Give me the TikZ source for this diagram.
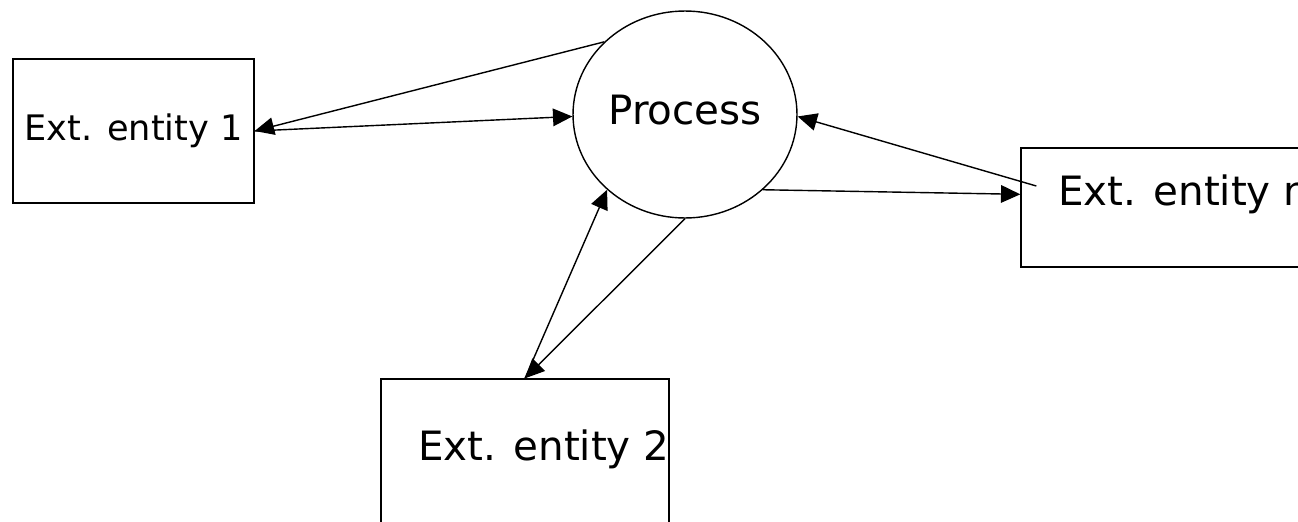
\documentclass[tikz,border=0pt]{standalone}
\usepackage{fontspec}
\setmainfont{DejaVu Sans}
\usetikzlibrary{arrows.meta,calc,shapes.geometric}

\begin{document}
\begin{tikzpicture}[x=0.02cm,y=-0.02cm,>={Triangle[length=11pt,width=10pt]}]
	
	% ------------------------------------------------------------
	% Styles
	% ------------------------------------------------------------
	\tikzset{
		entity/.style={draw=black,line width=0.8pt,inner sep=0pt},
		procshape/.style={ellipse,draw=black,line width=0.8pt,inner sep=0pt,
			minimum width=4.48cm,minimum height=4.14cm},
		smalltext/.style={font=\fontsize{20}{24}\selectfont,inner sep=0pt},
		bigtext/.style={font=\fontsize{23}{28}\selectfont,inner sep=0pt},
		flow/.style={->,line width=0.8pt}
	}
	
	\useasboundingbox (0,0) rectangle (1298,521);
	
	% ============================================================
	% Process (centre)
	% ============================================================
	\node[procshape] (pr) at (685,114.5) {};
	\node[bigtext,anchor=base west] (prtext) at (608,124) {Process};
	
	% ============================================================
	% External entities
	% ============================================================
	\node[entity,smalltext,minimum width=4.82cm,minimum height=2.88cm]
	(e1) at (133.5,131) {Ext. entity 1};
	
	\node[entity,minimum width=5.76cm,minimum height=3.2cm] (e2) at (525,459) {};
	\node[bigtext,anchor=base west] (e2text) at (418,460) {Ext. entity 2};
	
	\node[entity,minimum width=6cm,minimum height=2.38cm] (en) at (1171,207.5) {};
	\node[bigtext,anchor=base west] (entext) at (1058,205) {Ext. entity n};
	\coordinate (enfoot) at ($(en.west)+(16,-21.5)$);
	
	% ============================================================
	% Data flows
	% ============================================================
	\draw[flow] (pr.138) -- (e1.east);
	\draw[flow] (e1.east) -- (pr.181);
	
	\draw[flow] (enfoot) -- (pr.359);
	\draw[flow] (pr.-44) -- (en.175);
	
	\draw[flow] (e2.north) -- (pr.224);
	\draw[flow] (pr.south) -- (e2.north);
	
\end{tikzpicture}
\end{document}
